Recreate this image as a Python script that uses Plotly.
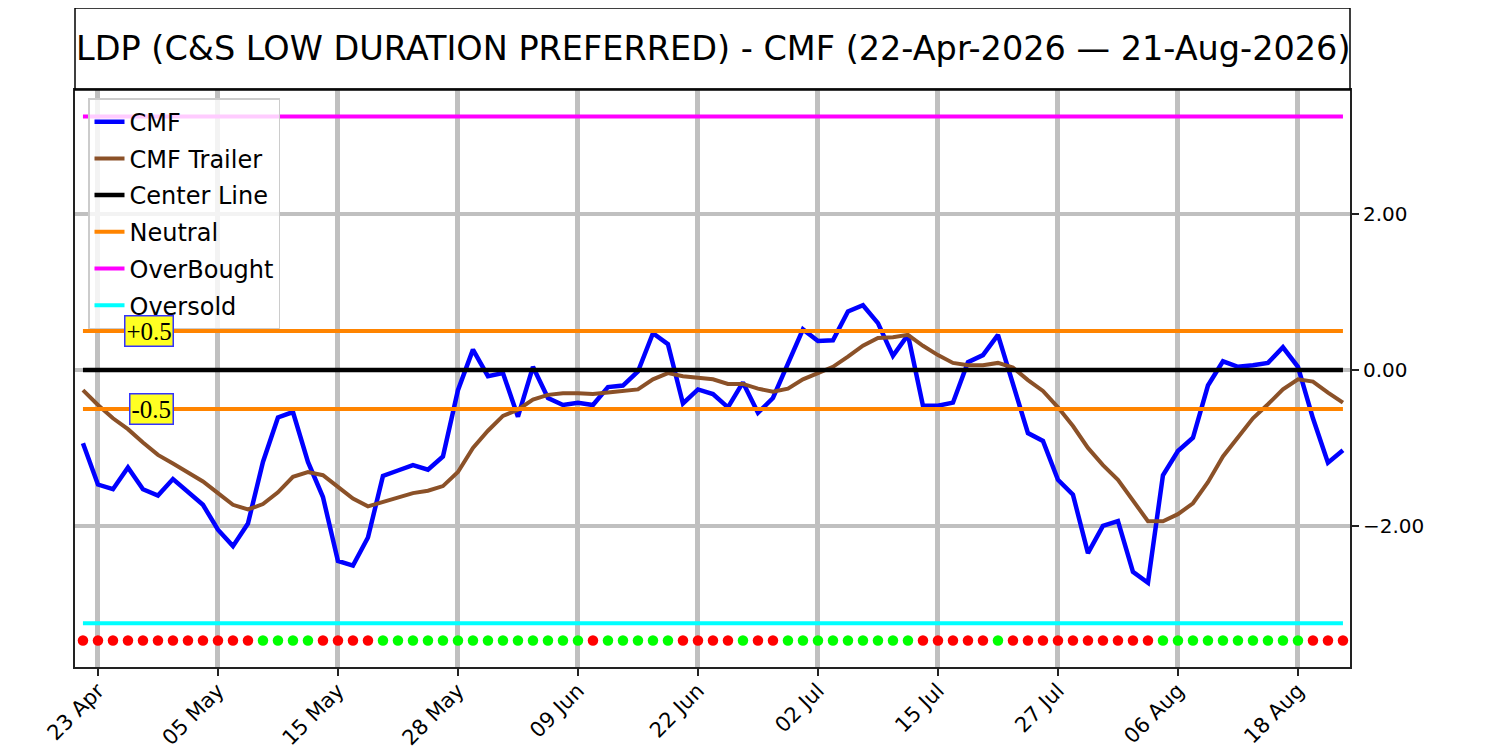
import pandas as pd
import plotly.graph_objects as go

# trading days 22-Apr-2026 .. 21-Aug-2026 (US market holidays removed)
holidays = ["2026-05-25", "2026-06-19", "2026-07-03"]
dates = pd.bdate_range("2026-04-22", "2026-08-21", freq="C", holidays=holidays)
x_dates = [d.strftime("%Y-%m-%d") for d in dates]

cmf = [
    -0.94, -1.47, -1.53, -1.25, -1.53, -1.61, -1.40, -1.57, -1.73, -2.05,
    -2.26, -1.97, -1.18, -0.61, -0.54, -1.18, -1.63, -2.45, -2.51, -2.15,
    -1.36, -1.29, -1.22, -1.28, -1.11, -0.26, 0.26, -0.08, -0.04, -0.60,
    0.04, -0.36, -0.45, -0.42, -0.45, -0.22, -0.20, -0.02, 0.47, 0.33,
    -0.43, -0.25, -0.31, -0.48, -0.16, -0.55, -0.36, 0.08, 0.52, 0.37,
    0.38, 0.75, 0.83, 0.60, 0.18, 0.45, -0.46, -0.46, -0.42, 0.10,
    0.19, 0.45, -0.18, -0.81, -0.91, -1.41, -1.60, -2.35, -2.00, -1.94,
    -2.59, -2.73, -1.35, -1.04, -0.87, -0.20, 0.11, 0.04, 0.06, 0.09,
    0.29, 0.04, -0.62, -1.19, -1.03,
]

cmf_trailer = [
    -0.26, -0.45, -0.62, -0.76, -0.93, -1.09, -1.20, -1.32, -1.43, -1.58,
    -1.73, -1.79, -1.72, -1.57, -1.37, -1.31, -1.35, -1.50, -1.65, -1.75,
    -1.69, -1.63, -1.58, -1.55, -1.49, -1.31, -1.00, -0.78, -0.59, -0.51,
    -0.38, -0.32, -0.30, -0.30, -0.31, -0.29, -0.27, -0.25, -0.12, -0.04,
    -0.08, -0.10, -0.12, -0.18, -0.18, -0.24, -0.28, -0.24, -0.12, -0.04,
    0.04, 0.17, 0.31, 0.41, 0.42, 0.45, 0.31, 0.19, 0.09, 0.06,
    0.06, 0.09, 0.03, -0.13, -0.27, -0.48, -0.72, -1.00, -1.22, -1.41,
    -1.67, -1.94, -1.94, -1.85, -1.71, -1.44, -1.11, -0.86, -0.62, -0.44,
    -0.25, -0.12, -0.15, -0.29, -0.42,
]

# 1 = green dot, 0 = red dot
signal = [
    0, 0, 0, 0, 0, 0, 0, 0, 0, 0, 0, 0,
    1, 1, 1, 1,
    0, 0, 0, 0,
    1, 1, 1, 1, 1, 1, 1, 1, 1, 1, 1, 1, 1, 1,
    0,
    1, 1, 1, 1, 1,
    0, 0, 0, 0,
    1,
    0, 0,
    1, 1, 1, 1, 1, 1, 1, 1, 1,
    0, 0, 0, 0, 0,
    1,
    0, 0, 0, 0, 0, 0, 0, 0, 0, 0,
    1, 1, 1, 1, 1, 1, 1, 1, 1, 1,
    0, 0, 0,
]

center_level = 0.0
neutral_level = 0.5
overbought_level = 3.25
oversold_level = -3.25
signal_level = -3.47

tick_dates = ["2026-04-23", "2026-05-05", "2026-05-15", "2026-05-28", "2026-06-09",
              "2026-06-22", "2026-07-02", "2026-07-15", "2026-07-27", "2026-08-06",
              "2026-08-18"]
tick_text = [pd.Timestamp(d).strftime("%d %b") for d in tick_dates]

n = len(x_dates)
fig = go.Figure()

fig.add_trace(go.Scatter(x=x_dates, y=cmf, mode="lines", name="CMF",
                         line=dict(color="#0000ff", width=4.5), legendrank=1))
fig.add_trace(go.Scatter(x=x_dates, y=cmf_trailer, mode="lines", name="CMF Trailer",
                         line=dict(color="#8b5128", width=4), legendrank=2))
fig.add_trace(go.Scatter(x=x_dates, y=[center_level] * n, mode="lines", name="Center Line",
                         line=dict(color="black", width=4.5), legendrank=3))
fig.add_trace(go.Scatter(x=x_dates, y=[neutral_level] * n, mode="lines", name="Neutral",
                         line=dict(color="#ff8400", width=4), legendgroup="neutral",
                         legendrank=4))
fig.add_trace(go.Scatter(x=x_dates, y=[-neutral_level] * n, mode="lines", name="Neutral",
                         line=dict(color="#ff8400", width=4), legendgroup="neutral",
                         showlegend=False))
fig.add_trace(go.Scatter(x=x_dates, y=[overbought_level] * n, mode="lines", name="OverBought",
                         line=dict(color="#ff00ff", width=4), legendrank=5))
fig.add_trace(go.Scatter(x=x_dates, y=[oversold_level] * n, mode="lines", name="Oversold",
                         line=dict(color="#00ffff", width=4), legendrank=6))
fig.add_trace(go.Scatter(x=x_dates, y=[signal_level] * n, mode="markers", showlegend=False,
                         marker=dict(size=10.5, color=["#00ff00" if s else "#ff0000" for s in signal])))

# +0.5 / -0.5 labels
for txt, lvl in (("+0.5", neutral_level), ("-0.5", -neutral_level)):
    fig.add_annotation(x=6.1, y=lvl, xref="x", yref="y", text=txt, showarrow=False,
                       xanchor="right", yanchor="middle",
                       font=dict(family="Liberation Serif", size=25, color="black"),
                       bgcolor="#ffff22", bordercolor="#3333ff", borderwidth=1.5, borderpad=1)

# title box
fig.add_shape(type="rect", xref="paper", yref="paper", x0=0, x1=1, y0=1, y1=1.1421,
              line=dict(color="black", width=1.5))
fig.add_annotation(x=0.5, y=1.0711, xref="paper", yref="paper", showarrow=False,
                   text="LDP (C&S LOW DURATION PREFERRED) - CMF (22-Apr-2026 — 21-Aug-2026)",
                   font=dict(size=33.5, color="black"), xanchor="center", yanchor="middle")

# the page body adds an 8px offset at top-left, so the figure is 8px smaller
fig.update_layout(
    width=1492,
    height=742,
    margin=dict(l=67, r=150, t=82, b=83),
    plot_bgcolor="white",
    paper_bgcolor="white",
    font=dict(family="DejaVu Sans", color="black"),
    legend=dict(x=0.0102, y=0.986, xanchor="left", yanchor="top", itemwidth=30,
                tracegroupgap=2.5,
                bgcolor="rgba(255,255,255,0.8)", bordercolor="#cccccc", borderwidth=1.5,
                font=dict(size=24)),
    xaxis=dict(type="category", range=[-0.53, 84.47], tickvals=tick_dates, ticktext=tick_text,
               tickangle=-45, tickfont=dict(size=21), showgrid=True, gridcolor="#c0c0c0",
               gridwidth=4.5, showline=True, linecolor="#222222", linewidth=2, mirror=True,
               ticks="outside", ticklen=7, tickwidth=2, tickcolor="#222222", zeroline=False,
               ticklabelstandoff=-6, automargin=False),
    yaxis=dict(side="right", range=[-3.81, 3.59], tickvals=[-2, 0, 2], tickformat=".2f",
               tickfont=dict(size=20), showgrid=True, gridcolor="#c0c0c0", gridwidth=4,
               showline=True, linecolor="#222222", linewidth=2, mirror=True,
               ticks="outside", ticklen=7, tickwidth=2, tickcolor="#222222", zeroline=False,
               automargin=False),
)

fig.write_html("out.html")
